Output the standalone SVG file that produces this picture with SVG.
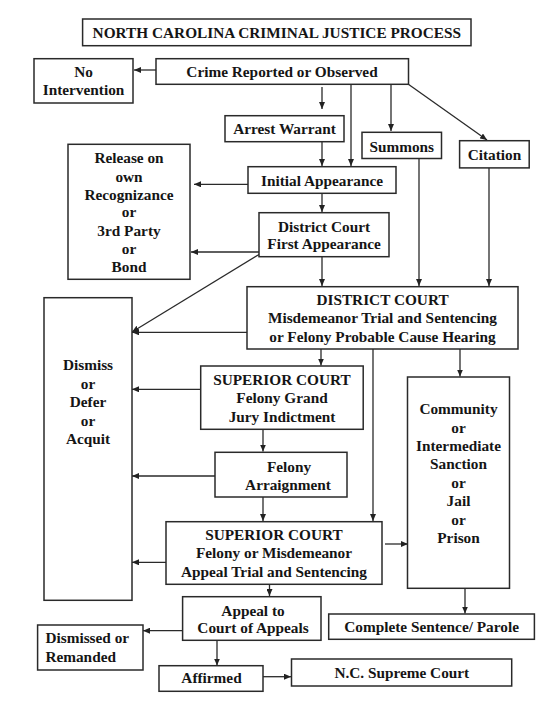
<svg xmlns="http://www.w3.org/2000/svg" width="556" height="705" viewBox="0 0 556 705">
<defs>
<marker id="ah" markerWidth="7" markerHeight="6" refX="7" refY="3" orient="auto" markerUnits="userSpaceOnUse">
<path d="M0,0 L7,3 L0,6 z" fill="#222"/>
</marker>
<style>
.box{fill:#fff;stroke:#2a2a2a;stroke-width:1.5}
.t{font-family:"Liberation Serif","Times New Roman",serif;font-weight:bold;font-size:15.3px;fill:#151515;text-anchor:middle}
.l{text-anchor:start}
.c{fill:none;stroke:#2a2a2a;stroke-width:1.3;marker-end:url(#ah)}
.n{fill:none;stroke:#2a2a2a;stroke-width:1.3}
</style>
</defs>
<rect width="556" height="705" fill="#fff"/>

<g id="connectors">
<path class="c" d="M156,70 H134"/>
<path class="c" d="M322,87 V109"/>
<path class="c" d="M351,85 V166"/>
<path class="c" d="M391,85 V131"/>
<path class="c" d="M408,84 L487,140"/>
<path class="c" d="M322,142 V166"/>
<path class="c" d="M248,184.3 H194"/>
<path class="c" d="M322,193.5 V212"/>
<path class="c" d="M259,252 H191"/>
<path class="c" d="M259,254.5 L132,332"/>
<path class="c" d="M322,256.7 V286"/>
<path class="c" d="M419,158.5 V286"/>
<path class="c" d="M489,168 V286"/>
<path class="c" d="M247,332.3 H132"/>
<path class="c" d="M321,349 V365.5"/>
<path class="c" d="M373,349 V521"/>
<path class="c" d="M460,349 V376.5"/>
<path class="c" d="M200.7,389.3 H132"/>
<path class="c" d="M263,429.3 V451.5"/>
<path class="c" d="M215,476 H132"/>
<path class="c" d="M263,497 V521"/>
<path class="c" d="M385,544 H408"/>
<path class="c" d="M166,562.3 H132"/>
<path class="c" d="M269.5,584.3 V596"/>
<path class="c" d="M465,588.3 V613.5"/>
<path class="c" d="M182.6,630.7 H143"/>
<path class="c" d="M217,640.3 V665.5"/>
<path class="c" d="M263,676.7 H291"/>
</g>

<g id="title">
<rect class="box" x="82.6" y="19" width="388.4" height="26.7"/>
<text class="t" x="276.8" y="38.3">NORTH CAROLINA CRIMINAL JUSTICE PROCESS</text>
</g>

<g id="no-intervention">
<rect class="box" x="34" y="58.7" width="99" height="44.3"/>
<text class="t" x="83.5" y="77.3">No</text>
<text class="t" x="83.5" y="95.3">Intervention</text>
</g>

<g id="crime">
<rect class="box" x="156" y="58.7" width="252.5" height="25.6"/>
<text class="t" x="282" y="77.3">Crime Reported or Observed</text>
</g>

<g id="arrest-warrant">
<rect class="box" x="225" y="115.7" width="119" height="26"/>
<text class="t" x="284.5" y="134.3">Arrest Warrant</text>
</g>

<g id="summons">
<rect class="box" x="362" y="132.3" width="79.5" height="26.2"/>
<text class="t" x="401.7" y="151.7">Summons</text>
</g>

<g id="citation">
<rect class="box" x="459.6" y="140.7" width="69.6" height="27.2"/>
<text class="t" x="494.4" y="160">Citation</text>
</g>

<g id="release">
<rect class="box" x="68" y="144.3" width="122" height="135"/>
<text class="t" x="129" y="163.3">Release on</text>
<text class="t" x="129" y="181.6">own</text>
<text class="t" x="129" y="199.6">Recognizance</text>
<text class="t" x="129" y="217.4">or</text>
<text class="t" x="129" y="235.6">3rd Party</text>
<text class="t" x="129" y="253.6">or</text>
<text class="t" x="129" y="271.7">Bond</text>
</g>

<g id="initial-appearance">
<rect class="box" x="248" y="166.7" width="148" height="26.6"/>
<text class="t" x="322" y="185.7">Initial Appearance</text>
</g>

<g id="district-first">
<rect class="box" x="259" y="212.7" width="130" height="44"/>
<text class="t" x="324" y="231.7">District Court</text>
<text class="t" x="324" y="249.3">First Appearance</text>
</g>

<g id="district-court">
<rect class="box" x="247" y="286.7" width="271" height="62.3"/>
<text class="t" x="382.5" y="305">DISTRICT COURT</text>
<text class="t" x="382.5" y="323.3">Misdemeanor Trial and Sentencing</text>
<text class="t" x="382.5" y="341.7">or Felony Probable Cause Hearing</text>
</g>

<g id="dismiss">
<rect class="box" x="44" y="297.7" width="88" height="302.6"/>
<text class="t" x="88" y="370">Dismiss</text>
<text class="t" x="88" y="388.6">or</text>
<text class="t" x="88" y="407.2">Defer</text>
<text class="t" x="88" y="425.6">or</text>
<text class="t" x="88" y="444">Acquit</text>
</g>

<g id="superior-grand-jury">
<rect class="box" x="200.7" y="366" width="162.5" height="63.3"/>
<text class="t" x="282" y="385">SUPERIOR COURT</text>
<text class="t" x="282" y="403.3">Felony Grand</text>
<text class="t" x="282" y="422">Jury Indictment</text>
</g>

<g id="community">
<rect class="box" x="407.5" y="377" width="102" height="211.3"/>
<text class="t" x="458.5" y="414">Community</text>
<text class="t" x="458.5" y="432.5">or</text>
<text class="t" x="458.5" y="450.8">Intermediate</text>
<text class="t" x="458.5" y="469.3">Sanction</text>
<text class="t" x="458.5" y="487.8">or</text>
<text class="t" x="458.5" y="506.3">Jail</text>
<text class="t" x="458.5" y="524.8">or</text>
<text class="t" x="458.5" y="543.3">Prison</text>
</g>

<g id="felony-arraignment">
<rect class="box" x="215" y="452.3" width="132" height="44.7"/>
<text class="t" x="289" y="471.7">Felony</text>
<text class="t" x="288" y="490">Arraignment</text>
</g>

<g id="superior-appeal">
<rect class="box" x="166" y="521.7" width="216" height="62.6"/>
<text class="t" x="274" y="540">SUPERIOR COURT</text>
<text class="t" x="274" y="558.3">Felony or Misdemeanor</text>
<text class="t" x="274" y="576.7">Appeal Trial and Sentencing</text>
</g>

<g id="appeal-court">
<rect class="box" x="182.6" y="596.7" width="138.4" height="43.6"/>
<text class="t" x="253" y="616">Appeal to</text>
<text class="t" x="253" y="633.3">Court of Appeals</text>
</g>

<g id="complete-sentence">
<rect class="box" x="328.7" y="614" width="205.7" height="25.3"/>
<text class="t" x="431.6" y="631.7">Complete Sentence/ Parole</text>
</g>

<g id="dismissed-remanded">
<rect class="box" x="37.6" y="625" width="105.4" height="45"/>
<text class="t l" x="45.4" y="643.3">Dismissed or</text>
<text class="t l" x="45.4" y="661.7">Remanded</text>
</g>

<g id="affirmed">
<rect class="box" x="159" y="665.7" width="104" height="25.6"/>
<text class="t" x="211.5" y="683.3">Affirmed</text>
</g>

<g id="nc-supreme">
<rect class="box" x="291.5" y="659" width="220.2" height="27"/>
<text class="t" x="401.8" y="678.3">N.C. Supreme Court</text>
</g>
</svg>
